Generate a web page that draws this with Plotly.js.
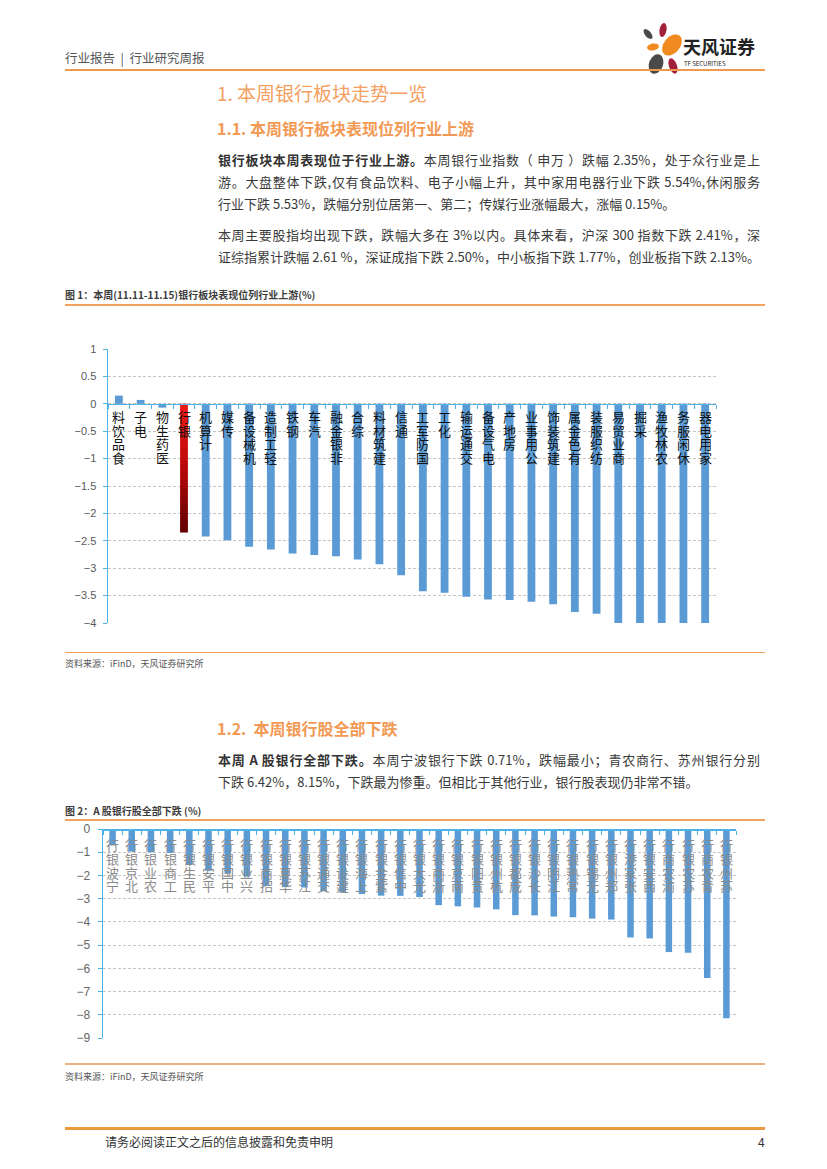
<!DOCTYPE html>
<html><head><meta charset="utf-8">
<script src="https://cdn.plot.ly/plotly-3.0.1.min.js"></script>
<style>
body{margin:0;width:827px;height:1169px;position:relative;background:#fff;font-family:"Noto Sans CJK SC","Noto Sans",sans-serif;overflow:hidden;color:#3a3a3a}
.a{position:absolute;white-space:nowrap}
.hr{position:absolute;left:65px;width:700px;background:#EE9A4D}
.p{position:absolute;left:218px;width:542px;font-size:13px;line-height:22px;color:#3a3a3a}
.j{text-align:justify;text-align-last:justify}
.b{font-weight:bold;color:#333}
.h1{font-size:19px;color:#F4A062}
.h2{font-size:16px;font-weight:bold;color:#F29A55}
.ft{font-size:10px;font-weight:bold;color:#3c3c3c}
.src{font-size:9px;color:#555}
#c1{position:absolute;left:0;top:320px;width:827px;height:340px}
#c2{position:absolute;left:0;top:816px;width:827px;height:234px}
</style></head><body>
<div class="a" style="left:65px;top:48px;font-size:12.5px;color:#555">行业报告&nbsp; |&nbsp; 行业研究周报</div>
<svg class="a" style="left:636px;top:22px" width="50" height="54" viewBox="0 0 50 54">
  <ellipse cx="27" cy="8" rx="3.5" ry="7" fill="#A3203A" transform="rotate(10 27 8)"/>
  <ellipse cx="12" cy="12" rx="3" ry="6" fill="#4A4A4A" transform="rotate(-40 12 12)"/>
  <ellipse cx="36" cy="23" rx="8" ry="12" fill="#F08B21" transform="rotate(40 36 23)"/>
  <ellipse cx="17" cy="25" rx="6" ry="3.5" fill="#F08B21" transform="rotate(-10 17 25)"/>
  <ellipse cx="20" cy="42" rx="7" ry="10" fill="#4A4A4A" transform="rotate(20 20 42)"/>
  <ellipse cx="37" cy="44" rx="4" ry="8" fill="#A3203A" transform="rotate(-20 37 44)"/>
</svg>
<div class="a" style="left:683px;top:33px;font-size:18px;font-weight:bold;color:#222">天风证券</div>
<div class="a" style="left:684px;top:59px;font-size:6px;color:#222">TF SECURITIES</div>
<div class="hr" style="top:69px;height:2px"></div>

<div class="a h1" style="left:217px;top:79px">1. 本周银行板块走势一览</div>
<div class="a h2" style="left:217px;top:116px">1.1. 本周银行板块表现位列行业上游</div>
<div class="p j" style="top:149px"><span class="b">银行板块本周表现位于行业上游。</span>本周银行业指数（ 申万 ）跌幅 2.35%，处于众行业是上</div>
<div class="p j" style="top:171px">游。大盘整体下跌,仅有食品饮料、电子小幅上升，其中家用电器行业下跌 5.54%,休闲服务</div>
<div class="p" style="top:193px">行业下跌 5.53%，跌幅分别位居第一、第二；传媒行业涨幅最大，涨幅 0.15%。</div>
<div class="p j" style="top:224px">本周主要股指均出现下跌，跌幅大多在 3%以内。具体来看，沪深 300 指数下跌 2.41%，深</div>
<div class="p j" style="top:246px">证综指累计跌幅 2.61 %，深证成指下跌 2.50%，中小板指下跌 1.77%，创业板指下跌 2.13%。</div>

<div class="a ft" style="left:65px;top:287px">图 1：本周(11.11-11.15)银行板块表现位列行业上游(%)</div>
<div class="hr" style="top:304px;height:1.5px;background:#F0A35E"></div>
<div id="c1"></div>
<div class="hr" style="top:652px;height:1px;background:#F0A35E"></div>
<div class="a src" style="left:65px;top:657px">资料来源：iFinD，天风证券研究所</div>

<div class="a h2" style="left:217px;top:716px">1.2.&nbsp; 本周银行股全部下跌</div>
<div class="p j" style="top:749px"><span class="b">本周 A 股银行全部下跌。</span>本周宁波银行下跌 0.71%，跌幅最小；青农商行、苏州银行分别</div>
<div class="p" style="top:771px">下跌 6.42%，8.15%，下跌最为惨重。但相比于其他行业，银行股表现仍非常不错。</div>
<div class="a ft" style="left:65px;top:803px">图 2：A 股银行股全部下跌 (%)</div>
<div class="hr" style="top:819px;height:1.5px;background:#F0A35E"></div>
<div id="c2"></div>
<div class="hr" style="top:1063px;height:2px;background:#F0B080"></div>
<div class="a src" style="left:65px;top:1070px">资料来源：iFinD，天风证券研究所</div>

<div class="hr" style="top:1127px;height:3px;background:#E89A3C"></div>
<div class="a" style="left:105px;top:1133px;font-size:12px;color:#333">请务必阅读正文之后的信息披露和免责申明</div>
<div class="a" style="left:758px;top:1133px;font-size:12px;color:#333">4</div>

<script>
const industries = ['食品饮料','电子','医药生物','银行','计算机','传媒','机械设备','轻工制造','钢铁','汽车','非银金融','综合','建筑材料','通信','国防军工','化工','交通运输','电气设备','房地产','公用事业','建筑装饰','有色金属','纺织服装','商业贸易','采掘','农林牧渔','休闲服务','家用电器'];
const industryChg = [0.15,0.07,-0.07,-2.35,-2.42,-2.49,-2.61,-2.66,-2.73,-2.76,-2.78,-2.84,-2.93,-3.13,-3.42,-3.45,-3.52,-3.57,-3.58,-3.61,-3.66,-3.80,-3.83,-4.12,-4.35,-4.79,-5.53,-5.54];
const highlight = '银行';

const banks = ['宁波银行','北京银行','农业银行','工商银行','民生银行','平安银行','中国银行','兴业银行','招商银行','华夏银行','江苏银行','交通银行','建设银行','上海银行','紫金银行','中信银行','光大银行','浙商银行','南京银行','贵阳银行','杭州银行','成都银行','长沙银行','江阴银行','常熟银行','无锡银行','郑州银行','张家港行','西安银行','渝农商行','苏农银行','青农商行','苏州银行'];
const bankChg = [-0.71,-0.97,-1.00,-1.03,-1.55,-1.80,-1.90,-2.05,-2.45,-2.50,-2.52,-2.68,-2.74,-2.80,-2.87,-2.88,-2.93,-3.28,-3.33,-3.38,-3.46,-3.71,-3.72,-3.77,-3.80,-3.86,-3.90,-4.67,-4.71,-5.30,-5.33,-6.42,-8.15];

const BLUE = '#5B9BD5', AXIS = '#4DB3E6', GRID = '#c4c4c4';
const tickFont = {family:'Liberation Sans, Arial, sans-serif', size:11, color:'#595959'};

function stackedLabels(names, top, step, font){
  const out = [];
  names.forEach(n => {
    const ch = Array.from(n); const k = ch.length;
    for(let i=0;i<k;i++){
      out.push({x:n, y:0, xref:'x', yref:'y', text:ch[k-1-i], showarrow:false,
        xanchor:'center', yanchor:'middle', yshift:-(top + step*(i+0.5)), font:font});
    }
  });
  return out;
}

// Chart 1
const c1 = {
  type:'bar', x:industries, y:industryChg,
  marker:{color:industries.map(n => n===highlight ? '#B00A0A' : BLUE)},
  hoverinfo:'none', cliponaxis:true
};
const l1 = {
  margin:{l:108,r:111,t:29,b:37}, width:827, height:340,
  paper_bgcolor:'rgba(0,0,0,0)', plot_bgcolor:'rgba(0,0,0,0)',
  bargap:0.64, showlegend:false,
  xaxis:{type:'category', anchor:'free', position:0.8, showline:true, linecolor:AXIS, linewidth:1.5,
    ticks:'outside', tickson:'boundaries', ticklen:4, tickcolor:AXIS, showticklabels:false, showgrid:false, fixedrange:true},
  yaxis:{range:[-4,1], dtick:0.5, showline:true, linecolor:AXIS, linewidth:1.5, ticks:'outside', ticklen:4, tickcolor:AXIS,
    showgrid:true, gridcolor:GRID, griddash:'3px,2px', gridwidth:1, zeroline:false, tickfont:tickFont, ticklabelstandoff:4},
  annotations: stackedLabels(industries, 6, 13.6, {family:'Noto Sans CJK SC', size:13, color:'#111'})
};
Plotly.newPlot('c1',[c1],l1,{displayModeBar:false,staticPlot:true}).then(gd => {
  const svg = gd.querySelector('svg.main-svg');
  const ns = 'http://www.w3.org/2000/svg';
  let defs = svg.querySelector('defs');
  const g = document.createElementNS(ns,'linearGradient');
  g.setAttribute('id','bankGrad'); g.setAttribute('x1','0'); g.setAttribute('y1','0'); g.setAttribute('x2','0'); g.setAttribute('y2','1');
  [['0','#F01A1A'],['0.5','#B80808'],['1','#5E0000']].forEach(([o,c]) => {
    const s = document.createElementNS(ns,'stop'); s.setAttribute('offset',o); s.setAttribute('stop-color',c); g.appendChild(s);
  });
  defs.appendChild(g);
  const pts = gd.querySelectorAll('.barlayer .point path');
  const idx = industries.indexOf(highlight);
  if(pts[idx]) pts[idx].style.fill = 'url(#bankGrad)';
});

// Chart 2
const c2 = {type:'bar', x:banks, y:bankChg, marker:{color:BLUE}, hoverinfo:'none'};
const l2 = {
  margin:{l:103,r:91,t:13,b:12}, width:827, height:234,
  paper_bgcolor:'rgba(0,0,0,0)', plot_bgcolor:'rgba(0,0,0,0)',
  bargap:0.66, showlegend:false,
  xaxis:{type:'category', anchor:'free', position:1, side:'bottom', showline:true, linecolor:AXIS, linewidth:1.5,
    ticks:'outside', tickson:'boundaries', ticklen:4, tickcolor:AXIS, showticklabels:false, showgrid:false},
  yaxis:{range:[-9,0], dtick:1, showline:true, linecolor:AXIS, linewidth:1.5, ticks:'outside', ticklen:4, tickcolor:AXIS,
    showgrid:true, gridcolor:GRID, griddash:'3px,2px', zeroline:false,
    tickfont:{family:'Liberation Sans, Arial, sans-serif', size:12, color:'#666'}, ticklabelstandoff:5},
  annotations: stackedLabels(banks, 9, 13.6, {family:'Noto Sans CJK SC', size:13, color:'#8a8a8a'})
};
Plotly.newPlot('c2',[c2],l2,{displayModeBar:false,staticPlot:true});
</script>
</body></html>
